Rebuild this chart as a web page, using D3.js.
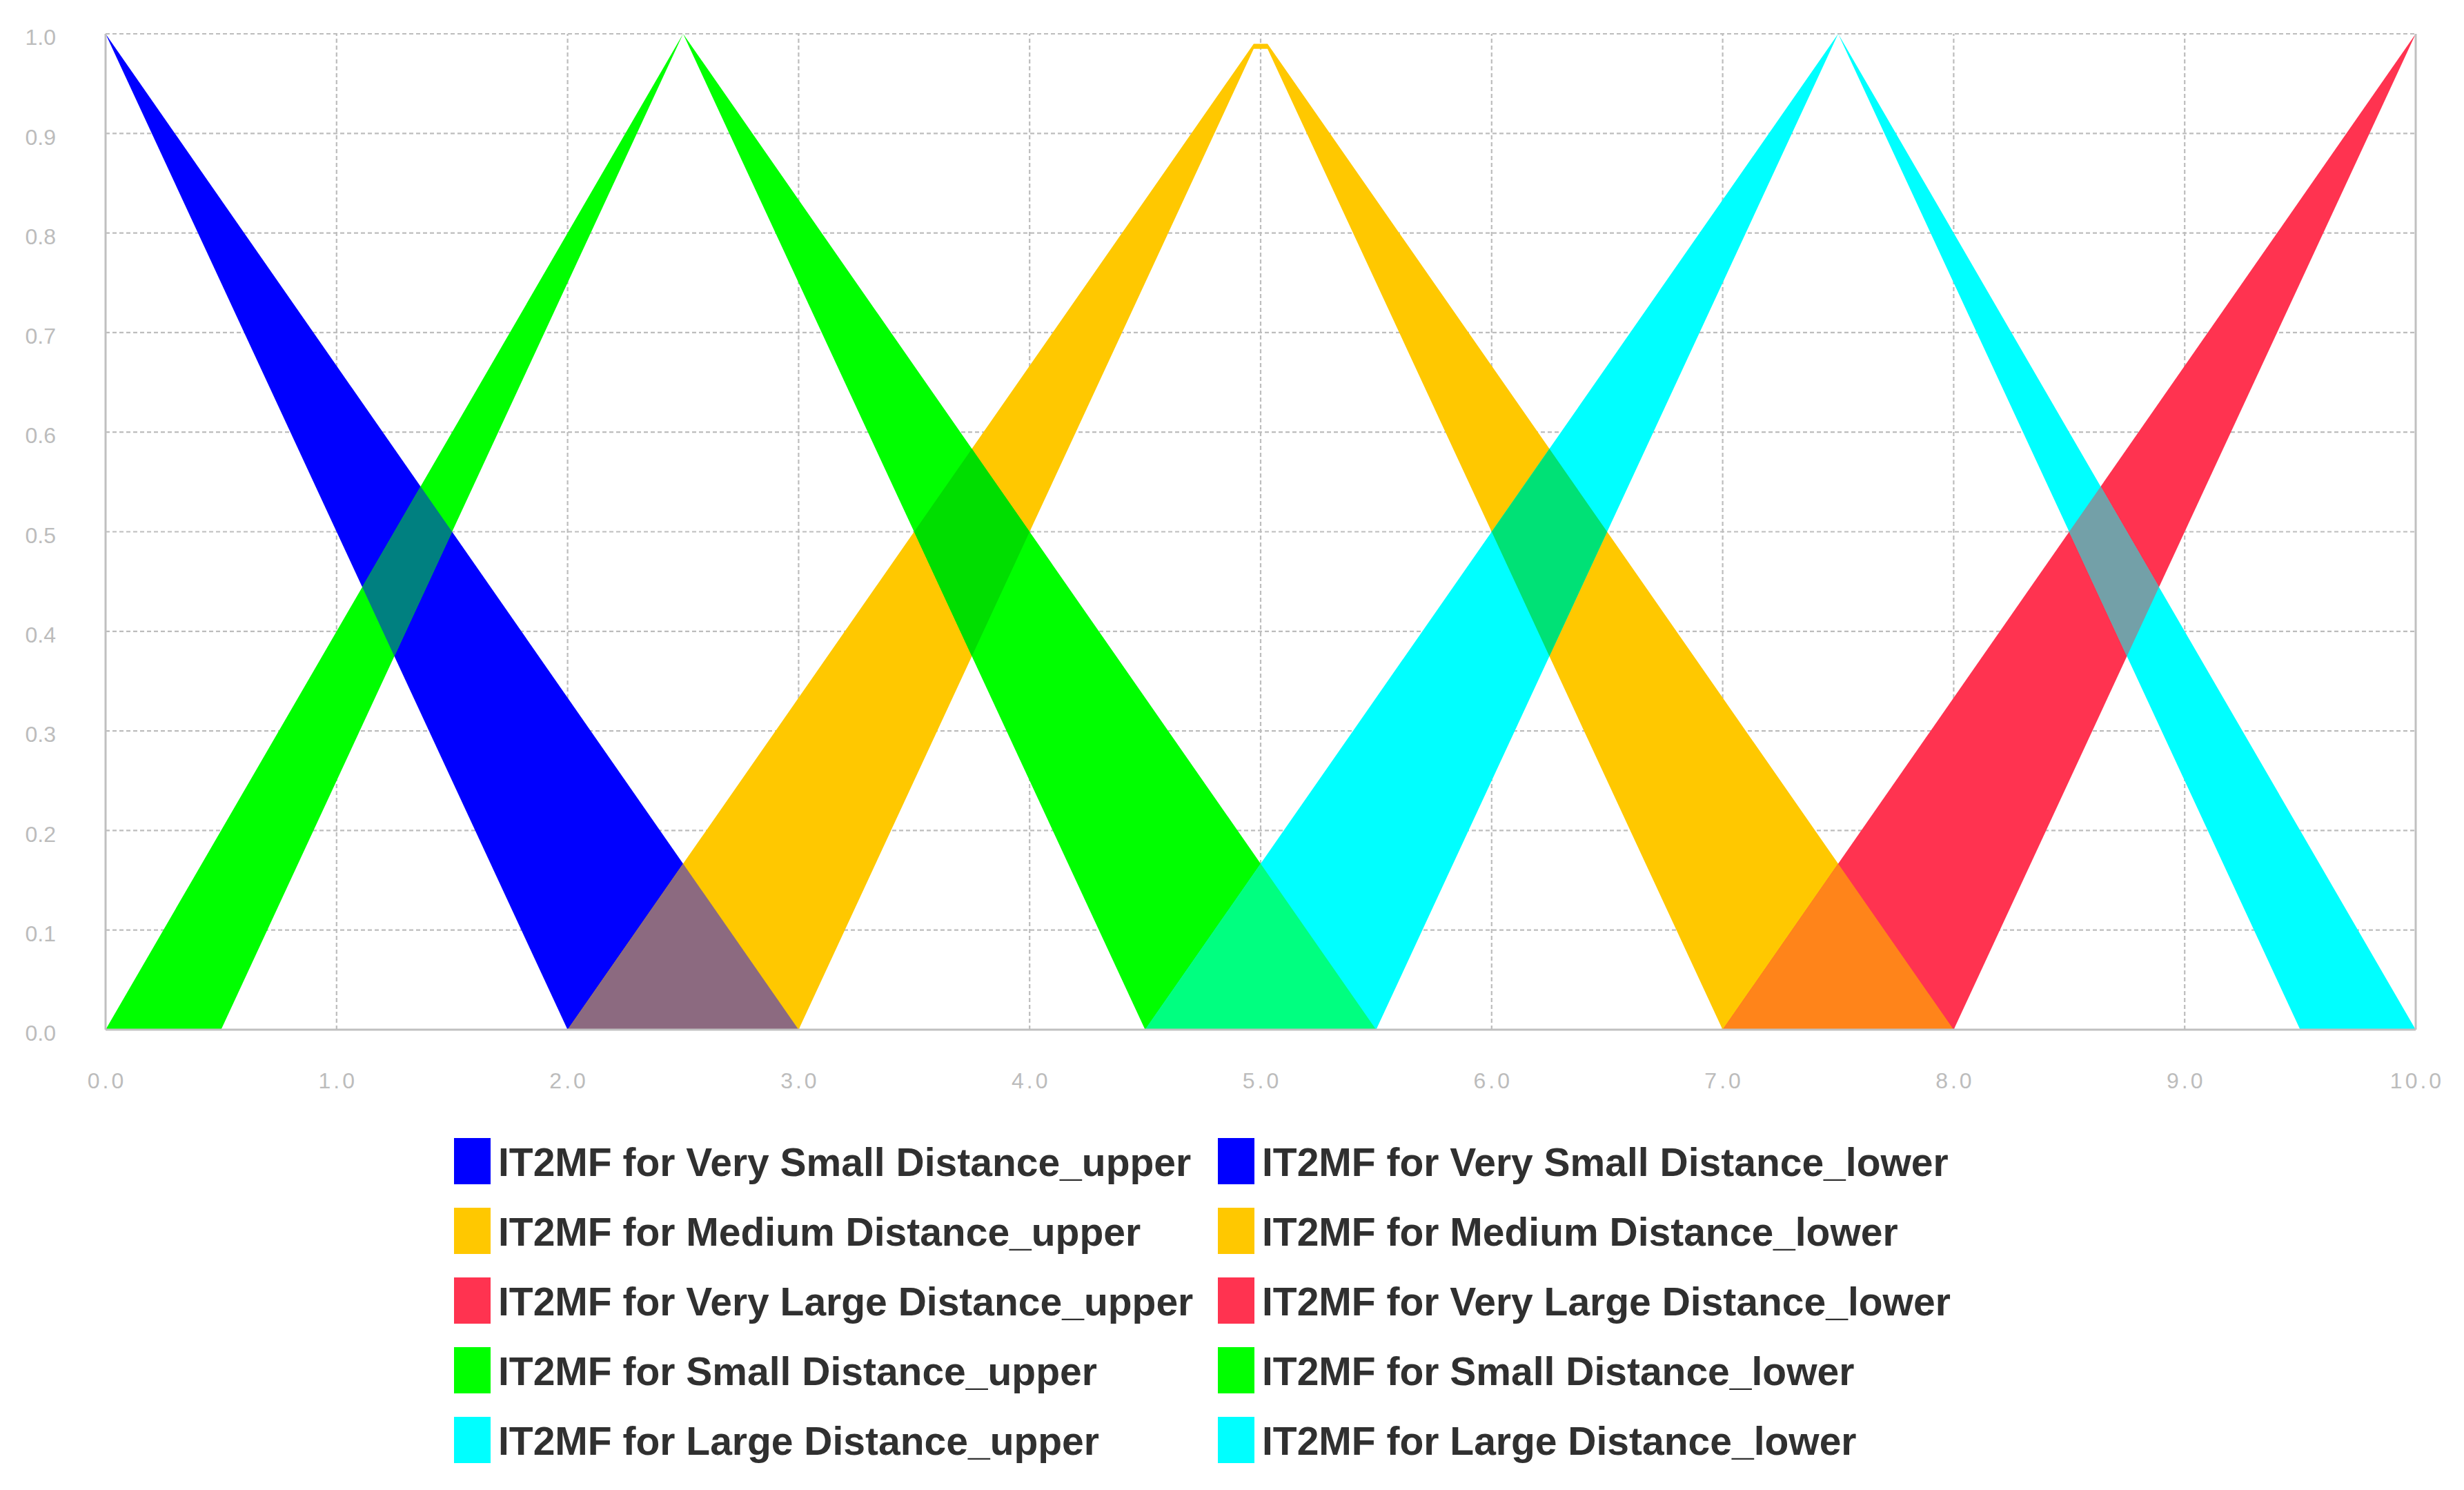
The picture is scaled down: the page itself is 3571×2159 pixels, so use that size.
<!DOCTYPE html>
<html>
<head>
<meta charset="utf-8">
<script src="https://cdnjs.cloudflare.com/ajax/libs/d3/7.8.5/d3.min.js"></script>
<style>
  body { margin: 0; background: #fff; }
  .grid line { stroke: #bdbdbd; stroke-width: 2.2; stroke-dasharray: 6,4; }
  .frame line { stroke: #c0c0c0; stroke-width: 3; }
  .tick-label { font-family: "Liberation Sans", Arial, sans-serif; font-size: 32px; fill: #bcbcbc; }
  .legend text { font-family: "Liberation Sans", Arial, sans-serif; font-weight: bold; font-size: 57px; fill: #303030; }
</style>
</head>
<body>
<div id="chart"></div>
<script>
"use strict";

// membership functions, in legend order
const mfNames = ["Very Small", "Medium", "Very Large", "Small", "Large"];
const mfColors = ["#0000ff", "#ffc800", "#ff3350", "#00ff00", "#00ffff"];

// [x, membership] corner points of each upper / lower MF
const verySmallUpper = [[0, 1], [3, 0]];
const verySmallLower = [[0, 1], [2, 0]];
const mediumUpper = [[2, 0], [4.97, 0.99], [5.03, 0.99], [8, 0]];
const mediumLower = [[3, 0], [4.97, 0.985], [5.03, 0.985], [7, 0]];
const veryLargeUpper = [[7, 0], [10, 1]];
const veryLargeLower = [[8, 0], [10, 1]];
const smallUpper = [[0, 0], [2.5, 1], [5.5, 0]];
const smallLower = [[0.5, 0], [2.5, 1], [4.5, 0]];
const largeUpper = [[4.5, 0], [7.5, 1], [10, 0]];
const largeLower = [[5.5, 0], [7.5, 1], [9.5, 0]];

const upperSets = [verySmallUpper, mediumUpper, veryLargeUpper, smallUpper, largeUpper];
const lowerSets = [verySmallLower, mediumLower, veryLargeLower, smallLower, largeLower];

// colour where two footprints cross: [under, over, colour]
const overlapPairs = [
  [0, 3, "#008080"],
  [0, 1, "#8c6a80"],
  [3, 1, "#00de00"],
  [3, 4, "#00ff80"],
  [1, 4, "#00e176"],
  [1, 2, "#ff841a"],
  [4, 2, "#73a0a8"]
];

const xTicks = [0, 1, 2, 3, 4, 5, 6, 7, 8, 9, 10];
const xTickLabels = ["0.0", "1.0", "2.0", "3.0", "4.0", "5.0", "6.0", "7.0", "8.0", "9.0", "10.0"];
const yTicks = [0, 0.1, 0.2, 0.3, 0.4, 0.5, 0.6, 0.7, 0.8, 0.9, 1.0];
const yTickLabels = ["0.0", "0.1", "0.2", "0.3", "0.4", "0.5", "0.6", "0.7", "0.8", "0.9", "1.0"];

const width = 3571;
const height = 2159;
const margin = { top: 49, right: 70, bottom: 667, left: 153 };

const x = d3.scaleLinear().domain([0, 10]).range([margin.left, width - margin.right]);
const y = d3.scaleLinear().domain([0, 1]).range([height - margin.bottom, margin.top]);

const svg = d3.select("#chart")
  .append("svg")
  .attr("width", width)
  .attr("height", height)
  .style("display", "block");

svg.append("rect").attr("width", width).attr("height", height).attr("fill", "#fff");

const line = d3.line().x(d => x(d[0])).y(d => y(d[1]));

// footprint of uncertainty: along upper MF, back along lower MF
function bandPath(i) {
  return line(upperSets[i].concat(lowerSets[i].slice().reverse())) + "Z";
}

// dashed grid
const grid = svg.append("g").attr("class", "grid");
grid.selectAll("line.v")
  .data(xTicks.filter(t => t > 0 && t < 10))
  .join("line")
  .attr("class", "v")
  .attr("x1", d => x(d)).attr("x2", d => x(d))
  .attr("y1", y(0)).attr("y2", y(1));
grid.selectAll("line.h")
  .data(yTicks.filter(t => t > 0))
  .join("line")
  .attr("class", "h")
  .attr("x1", x(0)).attr("x2", x(10))
  .attr("y1", d => y(d)).attr("y2", d => y(d));

// clip paths, one per band
const defs = svg.append("defs");
mfNames.forEach((name, i) => {
  defs.append("clipPath")
    .attr("id", "band-" + i)
    .append("path")
    .attr("d", bandPath(i));
});

const bands = svg.append("g");
bands.selectAll("path")
  .data(mfNames)
  .join("path")
  .attr("d", (d, i) => bandPath(i))
  .attr("fill", (d, i) => mfColors[i]);

// blended colour where two bands cross
bands.selectAll("path.overlap")
  .data(overlapPairs)
  .join("path")
  .attr("class", "overlap")
  .attr("d", d => bandPath(d[1]))
  .attr("clip-path", d => "url(#band-" + d[0] + ")")
  .attr("fill", d => d[2]);

// axis frame (left, bottom, right)
const frame = svg.append("g").attr("class", "frame");
frame.append("line").attr("x1", x(0)).attr("x2", x(0)).attr("y1", y(1)).attr("y2", y(0));
frame.append("line").attr("x1", x(0)).attr("x2", x(10)).attr("y1", y(0)).attr("y2", y(0));
frame.append("line").attr("x1", x(10)).attr("x2", x(10)).attr("y1", y(1)).attr("y2", y(0));

svg.append("g").selectAll("text")
  .data(yTicks)
  .join("text")
  .attr("class", "tick-label")
  .attr("x", margin.left - 72)
  .attr("y", d => y(d) + 5)
  .attr("dy", "0.35em")
  .attr("text-anchor", "end")
  .text((d, i) => yTickLabels[i]);

svg.append("g").selectAll("text")
  .data(xTicks)
  .join("text")
  .attr("class", "tick-label")
  .attr("x", d => x(d) + 2)
  .attr("y", y(0) + 85)
  .attr("text-anchor", "middle")
  .style("letter-spacing", "4px")
  .text((d, i) => xTickLabels[i]);

// legend: upper in the first column, lower in the second
const legend = svg.append("g").attr("class", "legend");
const legendCols = [
  { x: 658, suffix: "_upper" },
  { x: 1765, suffix: "_lower" }
];
const rowTop = 1683;
const rowStep = 101;

legendCols.forEach(col => {
  const rows = legend.append("g").selectAll("g")
    .data(mfNames)
    .join("g")
    .attr("transform", (d, i) => `translate(${col.x},${rowTop + i * rowStep})`);
  rows.append("rect")
    .attr("x", 0)
    .attr("y", -34)
    .attr("width", 53)
    .attr("height", 67)
    .attr("fill", (d, i) => mfColors[i]);
  rows.append("text")
    .attr("x", 64)
    .attr("y", 21)
    .text(d => "IT2MF for " + d + " Distance" + col.suffix);
});
</script>
</body>
</html>
